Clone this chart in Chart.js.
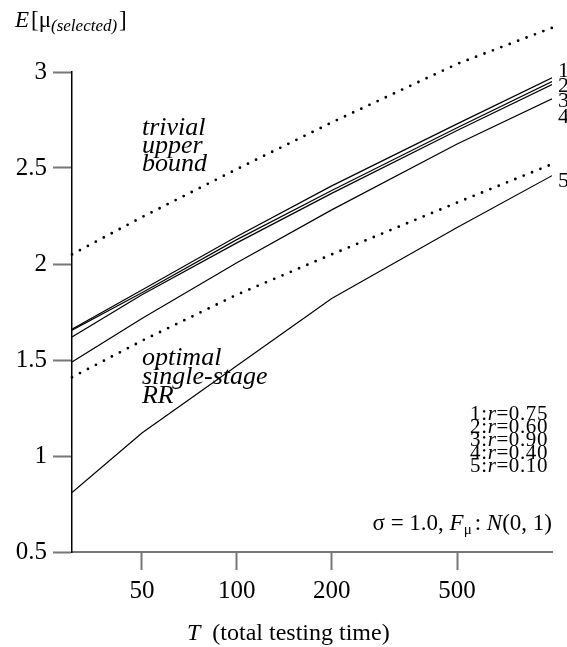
<!DOCTYPE html>
<html>
<head>
<meta charset="utf-8">
<script src="https://cdn.jsdelivr.net/npm/chart.js@4.4.1/dist/chart.umd.min.js"></script>
<style>
html, body { margin: 0; background: #fff; }
#wrap { width: 567px; height: 647px; }
</style>
</head>
<body>
<div id="wrap"><canvas id="chart"></canvas></div>
<script>
"use strict";
// total testing time T (log axis)
const T = [30, 50, 100, 200, 500, 1000];
const xTicks = [50, 100, 200, 500];
const yTicks = [0.5, 1, 1.5, 2, 2.5, 3];

// E[mu(selected)] per series
const r075 = [1.66, 1.865, 2.143, 2.407, 2.73, 2.97];
const r060 = [1.655, 1.85, 2.127, 2.383, 2.71, 2.95];
const r090 = [1.62, 1.84, 2.11, 2.368, 2.695, 2.935];
const r040 = [1.49, 1.716, 2.006, 2.282, 2.625, 2.86];
const r010 = [0.81, 1.12, 1.47, 1.82, 2.19, 2.46];
const upperBound = [2.05, 2.244, 2.494, 2.737, 3.042, 3.23];
const singleStage = [1.41, 1.60, 1.84, 2.05, 2.32, 2.52];

const legendLines = ["1:r=0.75", "2:r=0.60", "3:r=0.90", "4:r=0.40", "5:r=0.10"];
const endLabels = [["1", 3.003], ["2", 2.925], ["3", 2.847], ["4", 2.764], ["5", 2.43]];

const SERIF = "'Liberation Serif', 'Times New Roman', serif";
const f = (sz, it) => `${it ? "italic " : ""}${sz}px ${SERIF}`;

const pts = ys => T.map((x, i) => ({ x, y: ys[i] }));
const solid = ys => ({ data: pts(ys), borderColor: "#000", borderWidth: 1.2, pointRadius: 0, tension: 0 });
const dotted = ys => ({ data: pts(ys), borderColor: "#000", borderWidth: 2.8, borderDash: [0, 9],
    borderCapStyle: "round", pointRadius: 0, tension: 0, clip: false });

// draw a run of text pieces with mixed fonts
const runs = (ctx, x, y, parts, align) =>
{
    let w = 0;
    parts.forEach(p => { ctx.font = p.f; w += ctx.measureText(p.t).width + (p.gap || 0); });
    let cx = align === "right" ? x - w : align === "center" ? x - w / 2 : x;
    parts.forEach(p =>
    {
        ctx.font = p.f;
        ctx.fillText(p.t, cx, y + (p.dy || 0));
        cx += ctx.measureText(p.t).width + (p.gap || 0);
    });
};

const textPlugin = {
    id: "texts",
    afterDraw(chart)
    {
        const { ctx, chartArea: a, scales: { x, y } } = chart;
        ctx.save();
        ctx.fillStyle = "#000";
        ctx.textBaseline = "alphabetic";

        // y axis title
        runs(ctx, 15, 27, [
            { t: "E", f: f(23, true), gap: 2 },
            { t: "[μ", f: f(23) },
            { t: "(selected)", f: f(17, true), dy: 4, gap: 2 },
            { t: "]", f: f(23) }
        ], "left");

        // x axis title
        runs(ctx, 187, 640, [
            { t: "T", f: f(24, true) },
            { t: "  (total testing time)", f: f(24) }
        ], "left");

        // curve annotations
        ctx.font = f(26, true);
        const ax = x.getPixelForValue(50);
        ["trivial", "upper", "bound"].forEach((s, i) => ctx.fillText(s, ax, y.getPixelForValue(2.67) + i * 18));
        ["optimal", "single-stage", "RR"].forEach((s, i) => ctx.fillText(s, ax, y.getPixelForValue(1.473) + i * 19));

        // end labels
        ctx.font = f(22);
        ctx.textBaseline = "middle";
        endLabels.forEach(([s, v]) => ctx.fillText(s, a.right + 6, y.getPixelForValue(v)));
        ctx.textBaseline = "alphabetic";

        // r legend
        ctx.letterSpacing = "0.6px";
        legendLines.forEach((s, i) =>
        {
            const [k, val] = s.split(":r=");
            runs(ctx, a.right - 4, 420 + i * 13, [
                { t: k + ":", f: f(21) },
                { t: "r", f: f(21, true) },
                { t: "=" + val, f: f(21) }
            ], "right");
        });
        ctx.letterSpacing = "0px";

        runs(ctx, a.right, 530, [
            { t: "σ = 1.0, ", f: f(23) },
            { t: "F", f: f(23, true) },
            { t: "μ", f: f(15), dy: 4, gap: 3 },
            { t: ": ", f: f(23) },
            { t: "N", f: f(23, true) },
            { t: "(0, 1)", f: f(23) }
        ], "right");
        ctx.restore();
    }
};

new Chart(document.getElementById("chart"), {
    type: "line",
    data: {
        datasets: [
            dotted(upperBound),
            solid(r075),
            solid(r060),
            solid(r090),
            solid(r040),
            dotted(singleStage),
            solid(r010)
        ]
    },
    options: {
        responsive: true,
        maintainAspectRatio: false,
        animation: false,
        devicePixelRatio: 1,
        layout: { padding: { top: 72, right: 15, left: 0, bottom: 0 } },
        plugins: { legend: { display: false }, tooltip: { enabled: false } },
        scales: {
            x: {
                type: "logarithmic",
                min: 30,
                max: 1000,
                afterBuildTicks: s => { s.ticks = xTicks.map(value => ({ value })); },
                afterFit: s => { s.height = 95; },
                ticks: { callback: v => String(v), font: { family: SERIF, size: 25 }, color: "#000",
                    padding: 6, maxRotation: 0, autoSkip: false },
                grid: { drawOnChartArea: false, drawTicks: true, tickLength: 18, tickColor: "#777", tickWidth: 2 },
                border: { color: "#777", width: 2 }
            },
            y: {
                type: "linear",
                min: 0.5,
                max: 3,
                afterBuildTicks: s => { s.ticks = yTicks.map(value => ({ value })); },
                afterFit: s => { s.width = 72; },
                ticks: { callback: v => String(v), font: { family: SERIF, size: 25 }, color: "#000", padding: 6 },
                grid: { drawOnChartArea: false, drawTicks: true, tickLength: 19, tickColor: "#777", tickWidth: 2 },
                border: { color: "#000", width: 1.5 }
            }
        }
    },
    plugins: [textPlugin]
});
</script>
</body>
</html>
